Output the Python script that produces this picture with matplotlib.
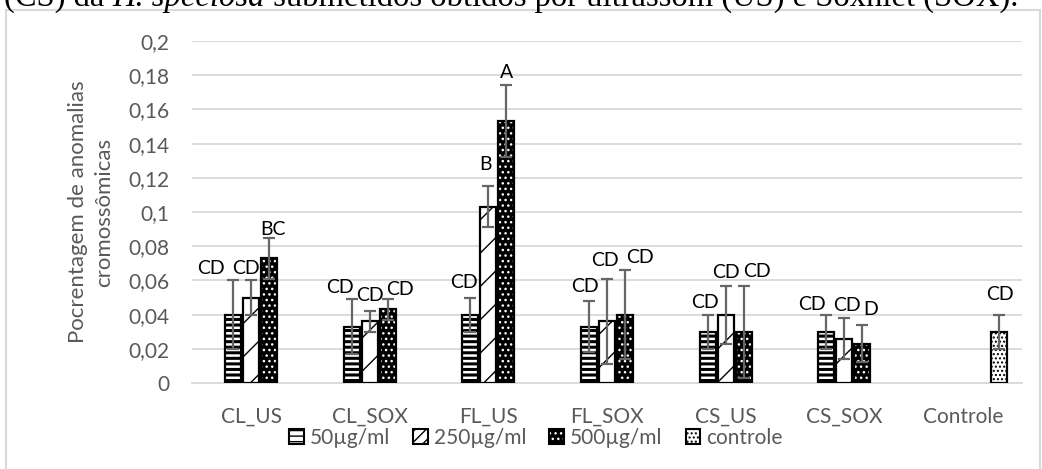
import matplotlib
matplotlib.use('Agg')
import matplotlib.pyplot as plt
import numpy as np
from matplotlib.patches import Rectangle, Patch

# ---------------- data ----------------
categories = ['CL_US', 'CL_SOX', 'FL_US', 'FL_SOX', 'CS_US', 'CS_SOX', 'Controle']
series_names = ['50µg/ml', '250µg/ml', '500µg/ml', 'controle']
nan = np.nan
v50 = [0.040, 0.033, 0.040, 0.033, 0.030, 0.030, nan]
e50 = [0.020, 0.016, 0.010, 0.015, 0.010, 0.010, nan]
v250 = [0.050, 0.036, 0.103, 0.036, 0.040, 0.026, nan]
e250 = [0.010, 0.006, 0.012, 0.025, 0.017, 0.012, nan]
v500 = [0.073, 0.043, 0.153, 0.040, 0.030, 0.023, nan]
e500 = [0.012, 0.006, 0.021, 0.026, 0.027, 0.011, nan]
vctl = [nan, nan, nan, nan, nan, nan, 0.030]
ectl = [nan, nan, nan, nan, nan, nan, 0.010]
lab50 = ['CD', 'CD', 'CD', 'CD', 'CD', 'CD', None]
lab250 = ['CD', 'CD', 'B', 'CD', 'CD', 'CD', None]
lab500 = ['BC', 'CD', 'A', 'CD', 'CD', 'D', None]
labctl = [None, None, None, None, None, None, 'CD']
yticks = [0, 0.02, 0.04, 0.06, 0.08, 0.10, 0.12, 0.14, 0.16, 0.18, 0.20]
ytick_labels = ['0', '0,02', '0,04', '0,06', '0,08', '0,1', '0,12', '0,14', '0,16', '0,18', '0,2']

# label placement tweaks (pixels): x shift, y above error top
dx50 = [-22, -12, -6, -4, -3, -14, 0]
dy50 = [12, 12, 15, 14, 12, 10, 0]
dx250 = [-5, 0, -3, -2, 0, 3, 0]
dy250 = [12, 16, 22, 18, 13, 13, 0]
dx500 = [4, 12, 0, 15, 13, 8, 0]
dy500 = [8, 10, 13, 13, 14, 15, 0]
dxctl = [0, 0, 0, 0, 0, 0, 1]
dyctl = [0, 0, 0, 0, 0, 0, 20]

plt.rcParams['font.family'] = ['Lato', 'DejaVu Sans']

W, H = 1042, 469
fig = plt.figure(figsize=(W / 100, H / 100), dpi=100)
ax = fig.add_axes([192 / W, 1 - 383 / H, 830 / W, 342 / H])

x = np.arange(len(categories))
bw = 0.135
step = 0.152
offsets = [-step, 0.0, step, 2 * step]

styles = [
    dict(face='white', hatch='---', lhatch='---', hcol='black', hlw=2.2),
    dict(face='white', hatch='/', lhatch='///', hcol='black', hlw=1.0),
    dict(face='black', hatch='...', lhatch='...', hcol='white', hlw=1.0),
    dict(face='white', hatch='....', lhatch='....', hcol='black', hlw=1.0),
]
vals = [v50, v250, v500, vctl]
errs = [e50, e250, e500, ectl]
labs = [lab50, lab250, lab500, labctl]
dxs = [dx50, dx250, dx500, dxctl]
dys = [dy50, dy250, dy500, dyctl]

for i in range(4):
    v = np.array(vals[i], dtype=float)
    e = np.array(errs[i], dtype=float)
    xs = x + offsets[i]
    st = styles[i]
    plt.rcParams['hatch.linewidth'] = st['hlw']
    bars = ax.bar(xs, v, width=bw, color=st['face'], edgecolor=st['hcol'],
                  hatch=st['hatch'], linewidth=0, zorder=2)
    for b in bars:
        try:
            b.set_hatch_linewidth(st['hlw'])
        except Exception:
            pass
    ax.bar(xs, v, width=bw, facecolor='none', edgecolor='black', linewidth=1.6, zorder=3)
    ax.errorbar(xs, v, yerr=e, fmt='none', ecolor='#666666', elinewidth=1.6,
                capsize=4.3, capthick=1.6, zorder=4)
    for k in range(len(categories)):
        if labs[i][k] is None or np.isnan(v[k]):
            continue
        ax.annotate(labs[i][k], (xs[k], v[k] + e[k]),
                    xytext=(dxs[i][k], dys[i][k]), textcoords='offset pixels',
                    ha='center', va='center', fontsize=14, color='black', zorder=5)

ax.set_xlim(-0.5, len(categories) - 0.5)
ax.set_ylim(0, 0.2)
ax.set_yticks(yticks)
ax.set_yticklabels(ytick_labels)
ax.set_xticks(x)
ax.set_xticklabels(categories)
ax.tick_params(axis='both', length=0, labelsize=15, labelcolor='#595959')
ax.tick_params(axis='y', pad=16)
ax.tick_params(axis='x', pad=17)
ax.yaxis.grid(True, color='#d9d9d9', linewidth=1.3, zorder=0)
ax.set_axisbelow(True)
for s in ['top', 'right', 'left']:
    ax.spines[s].set_visible(False)
ax.spines['bottom'].set_color('#d9d9d9')
ax.spines['bottom'].set_linewidth(1.3)

fig.text(91 / W, 1 - 212 / H, 'Pocrentagem de anomalias\ncromossômicas',
         rotation=90, ha='center', va='center', fontsize=16, color='#595959',
         linespacing=1.35)

handles = []
for i in range(4):
    st = styles[i]
    plt.rcParams['hatch.linewidth'] = max(st['hlw'] * 0.7, 0.8)
    fillp = Patch(facecolor=st['face'], edgecolor=st['hcol'], hatch=st['lhatch'], linewidth=0)
    edgep = Patch(facecolor='none', edgecolor='black', linewidth=1.5)
    handles.append((fillp, edgep))
plt.rcParams['hatch.linewidth'] = 1.0
leg = fig.legend(handles, series_names, loc='center', bbox_to_anchor=(536 / W, 1 - 438 / H),
                 ncol=4, frameon=False, fontsize=15, handlelength=0.7, handleheight=0.7,
                 handletextpad=0.3, columnspacing=1.1, borderpad=0)
for t in leg.get_texts():
    t.set_color('#595959')

# chart border
fig.patches.append(Rectangle((6 / W, -0.05), (1040 - 6) / W, 1.05 - 10 / H,
                             transform=fig.transFigure, fill=False,
                             edgecolor='#d9d9d9', linewidth=1.5))

# clipped caption at top (continuation of the document text)
renderer = fig.canvas.get_renderer()
pieces = [('(CS) da ', 'normal'), ('H. speciosa', 'italic'),
          (' submetidos obtidos por ultrassom (US) e Soxhlet (SOX).', 'normal')]
xpos = 4
for txt, sty in pieces:
    t = fig.text(xpos / W, 1 - 6 / H, txt, fontsize=23.5, family='Liberation Serif',
                 style=sty, ha='left', va='baseline', color='black')
    bb = t.get_window_extent(renderer=renderer)
    xpos += bb.width

fig.savefig('out.png', dpi=100)
